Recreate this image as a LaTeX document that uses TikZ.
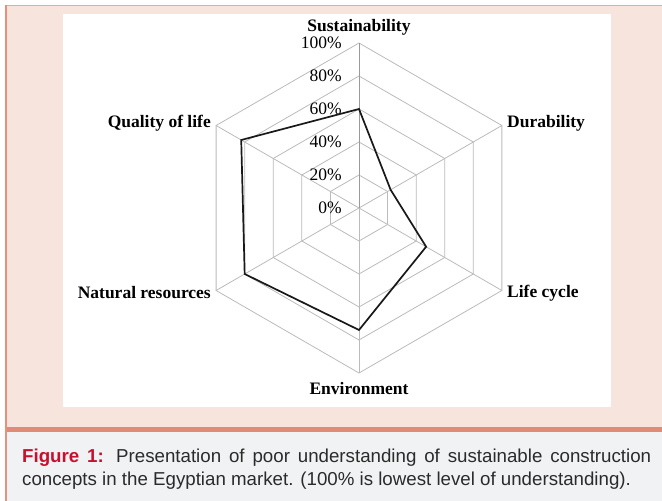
\documentclass[tikz,border=0pt]{standalone}
\usepackage{fontspec}
\setmainfont{Liberation Serif}
\newfontfamily\capfont{Liberation Sans}
\definecolor{pinkbg}{HTML}{F7E4DC}
\definecolor{capbg}{HTML}{F0F2F4}
\definecolor{edgecol}{HTML}{E8917A}
\definecolor{bandcol}{HTML}{E08B78}
\definecolor{gridcol}{HTML}{BBBBBB}
\definecolor{axiscol}{HTML}{9A9A9A}
\definecolor{capred}{HTML}{C8102E}
\definecolor{captext}{HTML}{2B2B2B}

\tikzset{
  pct/.style={anchor=east,inner sep=0pt,font=\fontsize{17.5}{20}\selectfont},
  axlabel/.style={inner sep=0pt,font=\bfseries\fontsize{17.5}{20}\selectfont},
  web/.style={gridcol,line width=0.8pt},
  series/.style={black!90,line width=1.7pt,line join=miter}
}

\begin{document}
\begin{tikzpicture}[x=1pt,y=1pt]
\useasboundingbox (0,0) rectangle (662,501);

% panel and caption band
\fill[pinkbg] (5,74) rectangle (662,495);
\fill[capbg] (5,0) rectangle (662,69);
\fill[bandcol] (5,69) rectangle (662,74);
\draw[edgecol!80,line width=1.5pt] (5,495.5) -- (662,495.5);
\draw[edgecol,line width=2pt] (6,0) -- (6,496);
\fill[white] (63,94) rectangle (611,487);

% radar chart
\begin{scope}[shift={(359,293)}]
\foreach \r in {33,66,99,132,165}
  \draw[web] (90:\r) -- (30:\r) -- (-30:\r) -- (-90:\r) -- (210:\r) -- (150:\r) -- cycle;
\foreach \a in {30,-30,-90,210,150}
  \draw[web] (0,0) -- (\a:165);
\draw[axiscol,line width=1pt] (0,0) -- (90:165);

\node[pct] (p0) at (-17,0) {0\%};
\node[pct] (p20) at (-17,33) {20\%};
\node[pct] (p40) at (-17,66) {40\%};
\node[pct] (p60) at (-17,99) {60\%};
\node[pct] (p80) at (-17,132) {80\%};
\node[pct] (p100) at (-17,165) {100\%};

\node[axlabel] (sust) at (0,181) {Sustainability};
\node[axlabel,anchor=west] (dura) at (148,85) {Durability};
\node[axlabel,anchor=west] (life) at (148,-85) {Life cycle};
\node[axlabel] (envi) at (0,-181) {Environment};
\node[axlabel,anchor=east] (natu) at (-148,-85) {Natural resources};
\node[axlabel,anchor=east] (qual) at (-148,85) {Quality of life};

% data (share of 165)
\coordinate (s) at (90:99);
\coordinate (d) at (30:36.5);
\coordinate (l) at (-30:77.5);
\coordinate (e) at (-90:122);
\coordinate (n) at (210:132);
\coordinate (q) at (150:136);
\draw[series] (s) -- (d) -- (l) -- (e) -- (n) -- (q) -- cycle;
\end{scope}

% caption
\node[anchor=north west,text width=629pt,align=justify,inner sep=0pt,
  font=\capfont\fontsize{18.7}{23}\selectfont,text=captext] (cap) at (22,52)
  {\textcolor{capred}{\bfseries Figure 1:} Presentation of poor understanding of sustainable construction\linebreak concepts in the Egyptian market. (100\% is lowest level of understanding).};
\end{tikzpicture}
\end{document}
